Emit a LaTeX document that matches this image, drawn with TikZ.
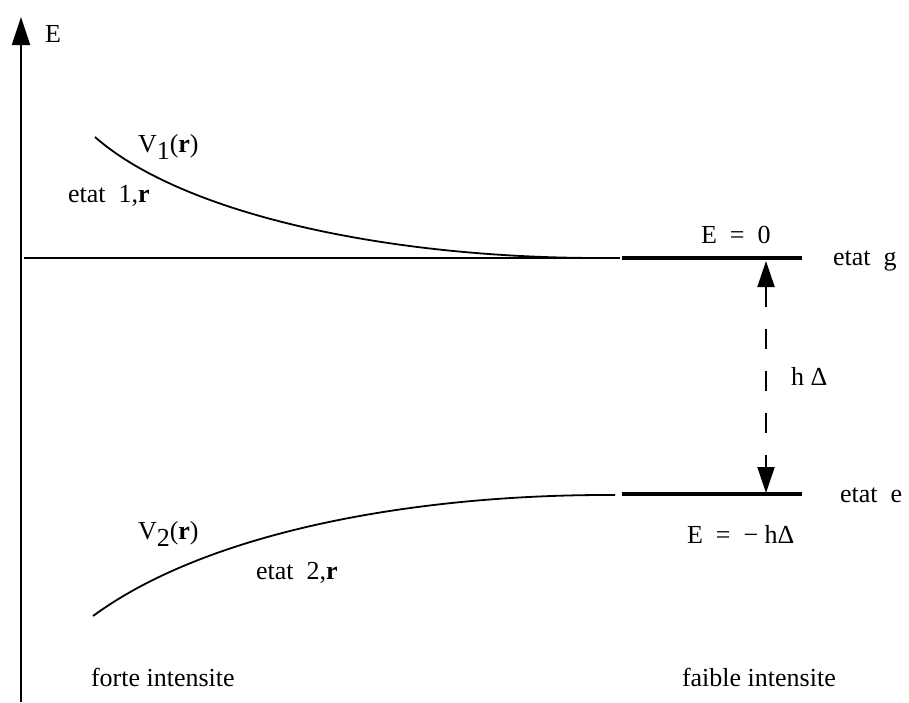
\documentclass[tikz,border=0pt]{standalone}
\usepackage{fontspec}
\setmainfont{Liberation Serif}
\usetikzlibrary{arrows.meta}
\begin{document}
\begin{tikzpicture}[x=1pt,y=-1pt,
  every node/.style={inner sep=0pt,outer sep=0pt,font=\fontsize{26}{30}\selectfont},
  lbl/.style={anchor=base west},
  thinline/.style={line width=1.8pt},
  levelline/.style={line width=4pt},
  axisline/.style={line width=2pt},
  gaparrow/.style={line width=2pt,dash pattern=on 20pt off 22pt},
]
\useasboundingbox (0,0) rectangle (909,702);
% coordinates
\coordinate (axbot) at (21,702);
\coordinate (axtop) at (21,17);
\coordinate (hstart) at (24,258);
\coordinate (hend) at (620,258);
\coordinate (gL) at (622,258);
\coordinate (gR) at (802,258);
\coordinate (eL) at (622,494);
\coordinate (eR) at (802,494);
\coordinate (gap1) at (766,261);
\coordinate (gap2) at (766,493);
\coordinate (v1a) at (95,137);
\coordinate (v1b) at (600,258);
\coordinate (v2a) at (93,616);
\coordinate (v2b) at (615,495);
% axis
\draw[axisline,-{Triangle[length=28pt,width=18pt]}] (axbot) -- (axtop);
% ground level
\draw[thinline] (hstart) -- (hend);
\draw[levelline] (gL) -- (gR);
\draw[levelline] (eL) -- (eR);
% potentials
\draw[thinline] (v1a) .. controls (180,212) and (380,258) .. (v1b);
\draw[thinline] (v2a) .. controls (210,530) and (420,494) .. (v2b);
% gap arrow
\draw[gaparrow,{Triangle[length=26pt,width=17pt]}-{Triangle[length=26pt,width=17pt]}] (gap1) -- (gap2);
% labels
\node[lbl] (lE) at (45,42) {E};
\node[lbl] (lV1) at (138,152) {V\raisebox{-7pt}{1}(\textbf{r})};
\node[lbl] (le1) at (68,202) {etat\ \ 1,\textbf{r}};
\node[lbl] (lV2) at (138,539) {V\raisebox{-7pt}{2}(\textbf{r})};
\node[lbl] (le2) at (256,579) {etat\ \ 2,\textbf{r}};
\node[lbl] (lforte) at (91,686) {forte intensite};
\node[lbl] (lfaible) at (682,686) {faible intensite};
\node[lbl] (lE0) at (701,243) {E\ \ =\ \ 0};
\node[lbl] (lEh) at (687,543) {E\ \ =\ \ −\ hΔ};
\node[lbl] (lg) at (833,265) {etat\ \ g};
\node[lbl] (le) at (840,502) {etat\ \ e};
\node[lbl] (lhD) at (791,385) {h Δ};
\end{tikzpicture}
\end{document}
